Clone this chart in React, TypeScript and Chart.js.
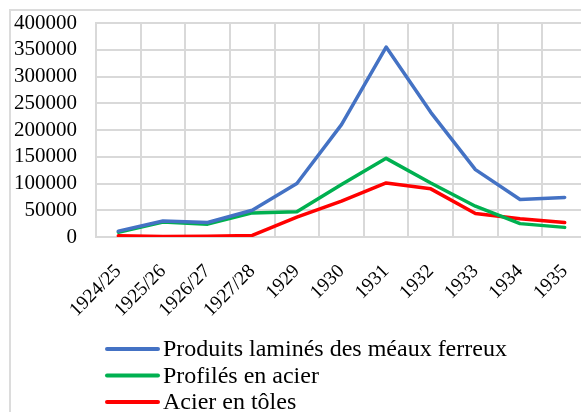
import React, { useEffect, useRef } from "react";
import { Chart, registerables } from "chart.js";

Chart.register(...registerables);

const categories = ["1924/25", "1925/26", "1926/27", "1927/28", "1929", "1930", "1931", "1932", "1933", "1934", "1935"];
const produitsLamines = [11000, 30000, 27000, 50000, 100000, 210000, 355000, 233000, 126000, 70000, 74000];
const profilesAcier = [9000, 28000, 24000, 45000, 47000, 98000, 147000, 101000, 57500, 25000, 18000];
const acierTolesValues = [2500, 1000, 1500, 3000, 37000, 67000, 101000, 90000, 44000, 34000, 27000];
const yTicks = [0, 50000, 100000, 150000, 200000, 250000, 300000, 350000, 400000];
const seriesNames = ["Produits laminés des méaux ferreux", "Profilés en acier", "Acier en tôles"];
const seriesColors = ["#4472C4", "#00B050", "#FF0000"];

const FONT = "'Liberation Serif', 'Times New Roman', serif";

const legendPlugin = {
  id: "verticalLegend",
  afterDraw(chart: any) {
    const ctx = chart.ctx;
    ctx.save();
    ctx.font = `24px ${FONT}`;
    ctx.textBaseline = "middle";
    ctx.fillStyle = "#000";
    const y0 = chart.height - 63;
    chart.data.datasets.forEach((ds: any, i: number) => {
      const y = y0 + i * 26.5;
      ctx.strokeStyle = ds.borderColor;
      ctx.lineWidth = 4;
      ctx.lineCap = "round";
      ctx.beginPath();
      ctx.moveTo(107, y);
      ctx.lineTo(158, y);
      ctx.stroke();
      ctx.fillText(ds.label, 163, y + 1);
    });
    ctx.restore();
  },
};

export default function App() {
  const ref = useRef<HTMLCanvasElement | null>(null);
  useEffect(() => {
    if (!ref.current) return;
    const data = [produitsLamines, profilesAcier, acierTolesValues];
    const chart = new Chart(ref.current, {
      type: "line",
      data: {
        labels: categories,
        datasets: data.map((d, i) => ({
          label: seriesNames[i],
          data: d,
          borderColor: seriesColors[i],
          backgroundColor: seriesColors[i],
          borderWidth: 3.5,
          pointRadius: 0,
          tension: 0,
          borderJoinStyle: "round" as const,
          borderCapStyle: "round" as const,
        })),
      },
      options: {
        animation: false,
        responsive: false,
        devicePixelRatio: 1,
        layout: { padding: { left: 14, right: 13, top: 23, bottom: 65 } },
        plugins: { legend: { display: false }, tooltip: { enabled: false } },
        scales: {
          x: {
            offset: true,
            grid: { offset: true, color: "#d9d9d9", lineWidth: 2, drawTicks: false },
            border: { color: "#d9d9d9", width: 2 },
            afterFit: (axis: any) => {
              axis.paddingLeft = 0;
              axis.paddingRight = 0;
              axis.height = 110;
            },
            ticks: {
              color: "#000",
              font: { family: FONT, size: 19.5 },
              minRotation: 45,
              maxRotation: 45,
              padding: 23,
              autoSkip: false,
            },
          },
          y: {
            min: 0,
            max: 400000,
            afterBuildTicks: (axis: any) => {
              axis.ticks = yTicks.map((v) => ({ value: v }));
            },
            afterFit: (axis: any) => {
              axis.width = 82;
              axis.paddingTop = 0;
              axis.paddingBottom = 0;
            },
            grid: { color: "#d9d9d9", lineWidth: 2, drawTicks: false },
            border: { color: "#d9d9d9", width: 2 },
            ticks: {
              color: "#000",
              font: { family: FONT, size: 21 },
              padding: 19,
              autoSkip: false,
              callback: (v: any) => String(v),
            },
          },
        },
      },
      plugins: [legendPlugin],
    });
    return () => chart.destroy();
  }, []);

  return (
    <div style={{ position: "absolute", left: 0, top: 0, width: 581, height: 412, overflow: "hidden", background: "#fff" }}>
      <div style={{ position: "absolute", left: 9, top: 9, width: 620, height: 440, border: "2px solid #dcdcdc" }} />
      <canvas ref={ref} width={600} height={412} style={{ position: "absolute", left: 0, top: 0, width: 600, height: 412 }} />
    </div>
  );
}
